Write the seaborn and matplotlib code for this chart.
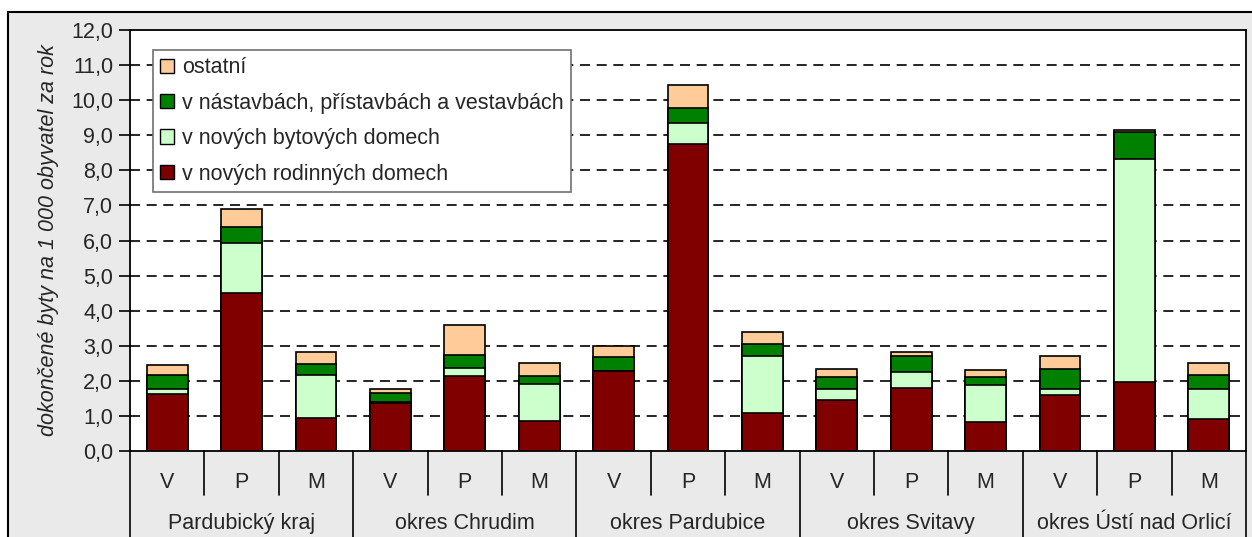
import numpy as np
import pandas as pd
import matplotlib
matplotlib.use("Agg")
import matplotlib.pyplot as plt
from matplotlib.patches import Patch, Rectangle
import seaborn as sns

# Data: dokončené byty na 1 000 obyvatel za rok
regions = ["Pardubický kraj", "okres Chrudim", "okres Pardubice", "okres Svitavy", "okres Ústí nad Orlicí"]
periods = ["V", "P", "M"]

rodinne = [1.62, 4.49, 0.95, 1.38, 2.13, 0.85, 2.28, 8.75, 1.07, 1.45, 1.80, 0.83, 1.60, 1.96, 0.92]
bytove = [0.15, 1.43, 1.21, 0.02, 0.23, 1.06, 0.00, 0.59, 1.64, 0.32, 0.45, 1.04, 0.17, 6.37, 0.84]
nastavby = [0.40, 0.46, 0.31, 0.26, 0.39, 0.22, 0.40, 0.43, 0.33, 0.35, 0.45, 0.23, 0.56, 0.75, 0.40]
ostatni = [0.28, 0.51, 0.34, 0.12, 0.83, 0.37, 0.32, 0.65, 0.36, 0.22, 0.11, 0.21, 0.38, 0.07, 0.36]

series_names = ["v nových rodinných domech", "v nových bytových domech",
                "v nástavbách, přístavbách a vestavbách", "ostatní"]
series_colors = ["#800000", "#CCFFCC", "#008000", "#FFCC99"]

y_ticks = list(range(0, 13))
y_ticklabels = [f"{v:.1f}".replace(".", ",") for v in y_ticks]

# long table, one row per bar
bar_ids = [f"{r}|{p}" for r in regions for p in periods]
df = pd.DataFrame({
    "bar": bar_ids,
    series_names[0]: rodinne,
    series_names[1]: bytove,
    series_names[2]: nastavby,
    series_names[3]: ostatni,
})
cum = df[series_names].cumsum(axis=1)

sns.set_theme(style="white")
plt.rcParams["font.family"] = ["Liberation Sans", "DejaVu Sans"]
FS = 15.5

fig = plt.figure(figsize=(12.52, 5.37), dpi=100)
fig.patch.set_facecolor("white")

# grey chart area with black border (background axes)
bg = fig.add_axes([0, 0, 1, 1], zorder=-10)
bg.set_xlim(0, 1)
bg.set_ylim(0, 1)
bg.axis("off")
bg.add_patch(Rectangle((8 / 1252, -0.05), 1.2, 1.05 - 12 / 537,
                       facecolor="#EAEAEA", edgecolor="black", linewidth=1.5, clip_on=False))

ax = fig.add_axes([130 / 1252, 1 - 451 / 537, 1116 / 1252, 421 / 537])
ax.set_facecolor("white")

# stacked bars: draw cumulative totals from top layer down
for name, color in zip(series_names[::-1], series_colors[::-1]):
    sns.barplot(x=df["bar"], y=cum[name], order=bar_ids, color=color, width=0.55,
                edgecolor="black", linewidth=1.2, saturation=1, ax=ax, zorder=3)

ax.set_xlim(-0.5, len(bar_ids) - 0.5)
ax.set_ylim(0, 12)
ax.set_yticks(y_ticks)
ax.set_yticklabels(y_ticklabels, fontsize=FS)
ax.tick_params(axis="y", direction="out", length=8, width=1.2, color="black", pad=4, left=True)
ax.set_xticks([])
ax.set_xlabel("")
ax.set_ylabel("dokončené byty na 1 000 obyvatel za rok", fontsize=FS, style="italic", labelpad=9)

for y in y_ticks[1:-1]:
    ax.axhline(y, color="black", linestyle=(0, (6, 4)), linewidth=1.2, zorder=1)

for s in ax.spines.values():
    s.set_color("black")
    s.set_linewidth(1.3)

# category axis (two levels)
trans = ax.get_xaxis_transform()
for i, bid in enumerate(bar_ids):
    ax.text(i, -0.074, bid.split("|")[1], transform=trans, ha="center", va="center", fontsize=FS)
for i in range(len(bar_ids) + 1):
    xpos = i - 0.5
    if i % 3 == 0:
        ax.plot([xpos, xpos], [0, -0.3], transform=trans, color="black", lw=1.2, clip_on=False)
    else:
        ax.plot([xpos, xpos], [0, -0.105], transform=trans, color="black", lw=1.2, clip_on=False)
for g, reg in enumerate(regions):
    ax.text(g * 3 + 1, -0.172, reg, transform=trans, ha="center", va="center", fontsize=FS)

handles = [Patch(facecolor=c, edgecolor="black", linewidth=1) for c in series_colors[::-1]]
leg = ax.legend(handles, series_names[::-1], loc="upper left", bbox_to_anchor=(0.0206, 0.9525),
                borderaxespad=0, fontsize=FS, frameon=True, fancybox=False, edgecolor="#707070",
                framealpha=1, handlelength=0.65, handleheight=0.65, handletextpad=0.35,
                labelspacing=0.67, borderpad=0.34)
leg.get_frame().set_linewidth(1.2)
leg.set_zorder(5)

fig.savefig("out.png", dpi=100)
